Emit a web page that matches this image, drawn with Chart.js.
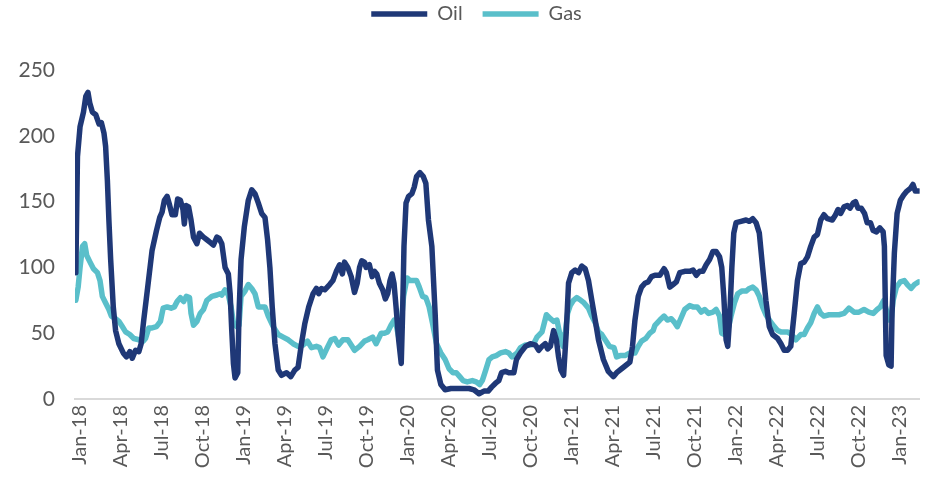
<!DOCTYPE html>
<html><head><meta charset="utf-8">
<script src="https://cdn.jsdelivr.net/npm/chart.js@4.4.0/dist/chart.umd.min.js"></script>
<style>html,body{margin:0;padding:0;background:#fff}#wrap{width:930px;height:482px;position:relative}</style>
</head><body><div id="wrap"><canvas id="c"></canvas></div>
<script>
// x values are months since Jan-2018 (0 = Jan-18)
const tickLabels = ['Jan-18','Apr-18','Jul-18','Oct-18','Jan-19','Apr-19','Jul-19','Oct-19','Jan-20','Apr-20','Jul-20','Oct-20','Jan-21','Apr-21','Jul-21','Oct-21','Jan-22','Apr-22','Jul-22','Oct-22','Jan-23'];
const yTicks = [0,50,100,150,200,250];

const oilMonths = [-0.29,-0.17,0.02,0.27,0.44,0.60,0.73,0.92,1.17,1.41,1.58,1.77,1.89,2.02,2.13,2.26,2.45,2.62,2.86,3.18,3.42,3.66,3.84,4.08,4.32,4.49,4.68,4.97,5.29,5.61,5.85,6.02,6.19,6.39,6.58,6.75,6.99,7.16,7.36,7.55,7.65,7.79,7.96,8.14,8.32,8.57,8.76,9.05,9.30,9.54,9.78,10.03,10.20,10.39,10.63,10.87,11.00,11.12,11.24,11.36,11.56,11.65,11.80,12.04,12.33,12.58,12.82,13.06,13.31,13.55,13.74,13.91,14.08,14.28,14.52,14.76,15.13,15.44,15.73,15.97,16.22,16.46,16.75,17.07,17.31,17.48,17.68,17.92,18.28,18.52,18.77,19.01,19.21,19.37,19.61,19.86,20.10,20.30,20.47,20.63,20.83,20.95,21.19,21.39,21.56,21.73,21.92,22.16,22.36,22.53,22.70,22.85,22.99,23.14,23.33,23.52,23.62,23.72,23.87,24.06,24.30,24.47,24.64,24.89,25.13,25.32,25.51,25.76,26.00,26.17,26.42,26.73,27.15,27.51,27.99,28.48,28.84,29.21,29.57,29.88,30.13,30.42,30.66,30.86,31.15,31.39,31.76,31.95,32.24,32.61,32.97,33.34,33.58,33.82,34.06,34.23,34.43,34.67,34.87,35.03,35.20,35.40,35.59,35.76,36.00,36.25,36.49,36.73,36.98,37.22,37.46,37.71,37.95,38.31,38.67,39.04,39.28,39.64,40.01,40.25,40.44,40.62,40.86,41.10,41.35,41.59,41.83,42.08,42.44,42.75,42.92,43.17,43.41,43.65,43.90,44.26,44.62,44.87,45.11,45.35,45.59,45.83,46.08,46.32,46.56,46.81,46.97,47.12,47.29,47.41,47.54,47.71,47.85,48.02,48.38,48.75,48.99,49.24,49.48,49.72,49.96,50.20,50.45,50.69,51.06,51.30,51.54,51.78,52.02,52.27,52.51,52.75,53.00,53.24,53.48,53.73,53.97,54.21,54.45,54.70,55.06,55.30,55.48,55.67,55.92,56.16,56.35,56.59,56.76,56.94,57.18,57.42,57.61,57.85,58.05,58.29,58.54,58.78,58.87,58.95,59.00,59.19,59.36,59.43,59.60,59.80,60.04,60.28,60.52,60.77,60.96,61.13,61.38];
const oilValues = [96,184,207,218,230,233,225,218,216,209,210,202,192,166,136,106,70,52,42,35,32,36,31,37,36,42,60,85,113,128,138,142,151,154,147,140,140,152,151,144,133,147,146,136,123,118,126,123,121,119,117,123,122,118,100,95,80,52,27,16,20,65,106,131,151,159,156,149,141,138,121,100,70,42,22,18,20,17,22,24,42,57,70,80,84,80,84,83,87,90,97,102,95,104,100,93,81,88,100,105,104,100,102,93,97,95,88,83,76,80,90,95,88,70,45,27,65,116,149,154,156,161,169,172,169,164,136,116,65,22,11,7,8,8,8,8,7,4,6,6,9,12,14,20,21,20,20,30,35,40,42,41,37,40,42,38,40,52,45,32,22,18,50,88,96,98,96,101,99,90,75,60,45,30,21,17,20,23,26,28,40,60,78,85,88,89,93,94,94,99,96,85,87,89,96,97,97,98,94,97,97,102,106,112,112,108,100,78,45,40,60,100,126,134,135,136,135,137,134,126,100,75,55,49,46,42,37,37,40,65,90,103,104,108,116,123,125,136,140,137,136,140,144,141,146,147,145,149,150,145,145,141,134,134,128,127,130,127,116,65,33,26,25,65,111,141,151,155,158,160,163,158,158];

const gasMonths = [-0.29,-0.12,0.02,0.20,0.36,0.51,0.75,1.00,1.29,1.48,1.65,1.89,2.13,2.31,2.62,2.86,3.11,3.35,3.66,3.95,4.32,4.64,4.81,5.05,5.29,5.61,5.90,6.10,6.39,6.68,6.92,7.12,7.36,7.60,7.79,8.03,8.14,8.32,8.57,8.81,9.05,9.30,9.66,10.03,10.27,10.39,10.63,10.87,11.07,11.24,11.49,11.65,11.80,12.09,12.33,12.58,12.82,13.06,13.31,13.55,13.79,14.15,14.52,14.88,15.25,15.61,15.97,16.34,16.66,16.95,17.31,17.55,17.79,18.11,18.40,18.65,18.94,19.25,19.61,19.86,20.10,20.47,20.83,21.07,21.43,21.68,22.05,22.29,22.53,22.77,23.01,23.18,23.33,23.50,23.69,23.94,24.16,24.40,24.64,24.84,25.08,25.32,25.56,25.80,26.10,26.42,26.73,27.02,27.31,27.55,27.80,28.04,28.35,28.72,29.01,29.26,29.45,29.70,29.94,30.18,30.47,30.79,31.15,31.39,31.63,32.00,32.24,32.61,32.97,33.21,33.45,33.82,34.14,34.43,34.67,34.91,35.11,35.35,35.52,35.69,35.88,36.12,36.36,36.66,36.90,37.22,37.46,37.71,37.95,38.19,38.44,38.75,39.09,39.28,39.53,39.89,40.25,40.62,40.86,41.10,41.42,41.71,41.95,42.08,42.44,42.75,42.99,43.28,43.53,43.72,43.97,44.26,44.62,44.87,45.18,45.47,45.72,46.01,46.32,46.56,46.81,46.97,47.17,47.41,47.65,47.90,48.14,48.43,48.75,48.99,49.24,49.48,49.72,49.96,50.20,50.52,50.81,51.06,51.30,51.59,51.78,52.08,52.39,52.75,53.00,53.24,53.48,53.73,53.97,54.21,54.45,54.82,55.18,55.55,55.92,56.28,56.65,57.01,57.38,57.73,58.05,58.34,58.58,58.83,59.00,59.19,59.36,59.51,59.75,60.04,60.33,60.55,60.82,61.07,61.38];
const gasValues = [75,85,100,116,118,109,104,99,96,90,78,73,68,63,61,59,55,51,49,46,45,44,46,54,54,55,59,69,70,69,70,74,77,74,78,77,65,56,59,65,68,75,78,79,80,79,83,79,70,58,55,56,78,82,87,84,80,70,70,70,63,55,49,47,45,42,40,41,44,39,40,39,32,39,45,46,41,45,45,41,37,40,44,45,47,42,50,50,51,56,60,55,47,55,78,92,90,90,90,85,78,77,70,58,42,35,30,23,20,20,17,14,13,14,13,11,14,22,30,32,33,35,36,35,32,35,39,41,41,42,47,51,64,61,59,60,50,40,50,65,71,75,77,75,73,69,63,58,51,49,45,40,39,32,33,33,35,35,40,44,46,50,52,56,60,63,60,61,58,55,61,68,71,70,70,66,68,65,66,68,63,50,49,52,63,73,80,82,82,84,85,83,78,70,64,59,55,52,51,51,51,49,45,49,49,54,58,65,70,65,63,64,64,64,65,69,66,66,68,66,65,68,70,75,68,60,60,75,85,89,90,87,84,87,89];

const oilColor = '#1f3877';
const gasColor = '#5abfca';
const textColor = '#595959';
const fontFamily = 'Lato, "Open Sans", sans-serif';

const toPoints = (xs, ys) => xs.map((x, i) => ({x: x, y: ys[i]}));

const legendFix = {
  id: 'legendFix',
  beforeLayout(chart) {
    const l = chart.legend;
    if (l && !l._fx) {
      const f = l.fit.bind(l);
      l.fit = function () { f(); this.height = 70; };
      l._fx = true;
    }
  },
  afterLayout(chart) {
    const l = chart.legend;
    if (l) { l.top -= 16; l.left += 30; }
  }
};

new Chart(document.getElementById('c'), {
  type: 'line',
  data: {
    datasets: [
      {label: 'Oil', data: toPoints(oilMonths, oilValues), borderColor: oilColor, backgroundColor: oilColor,
       borderWidth: 5.5, pointRadius: 0, tension: 0, borderCapStyle: 'round', borderJoinStyle: 'round', pointStyle: 'line'},
      {label: 'Gas', data: toPoints(gasMonths, gasValues), borderColor: gasColor, backgroundColor: gasColor,
       borderWidth: 5.5, pointRadius: 0, tension: 0, borderCapStyle: 'round', borderJoinStyle: 'round', pointStyle: 'line'}
    ]
  },
  options: {
    responsive: true,
    maintainAspectRatio: false,
    animation: false,
    layout: {padding: {left: 0, right: 7, top: 0, bottom: 0}},
    plugins: {
      legend: {
        position: 'top',
        labels: {usePointStyle: true, pointStyleWidth: 56, padding: 20, color: textColor,
                 font: {family: fontFamily, size: 20}}
      },
      tooltip: {enabled: false}
    },
    scales: {
      x: {
        type: 'linear',
        min: -0.35, max: 61.45,
        grid: {display: false, drawTicks: false},
        border: {display: true, color: '#d9d9d9', width: 2},
        afterBuildTicks: (s) => { s.ticks = tickLabels.map((_, i) => ({value: i * 3})); },
        afterFit: (s) => { s.height = 83; },
        ticks: {
          autoSkip: false, minRotation: 90, maxRotation: 90, padding: 6, color: textColor,
          font: {family: fontFamily, size: 20},
          callback: (v) => tickLabels[Math.round(v / 3)]
        }
      },
      y: {
        min: 0, max: 250,
        grid: {display: false, drawTicks: false},
        border: {display: false},
        afterBuildTicks: (s) => { s.ticks = yTicks.map(v => ({value: v})); },
        afterFit: (s) => { s.width = 75; },
        ticks: {padding: 20, color: textColor, font: {family: fontFamily, size: 21}}
      }
    }
  },
  plugins: [legendFix]
});
</script>
</body></html>
